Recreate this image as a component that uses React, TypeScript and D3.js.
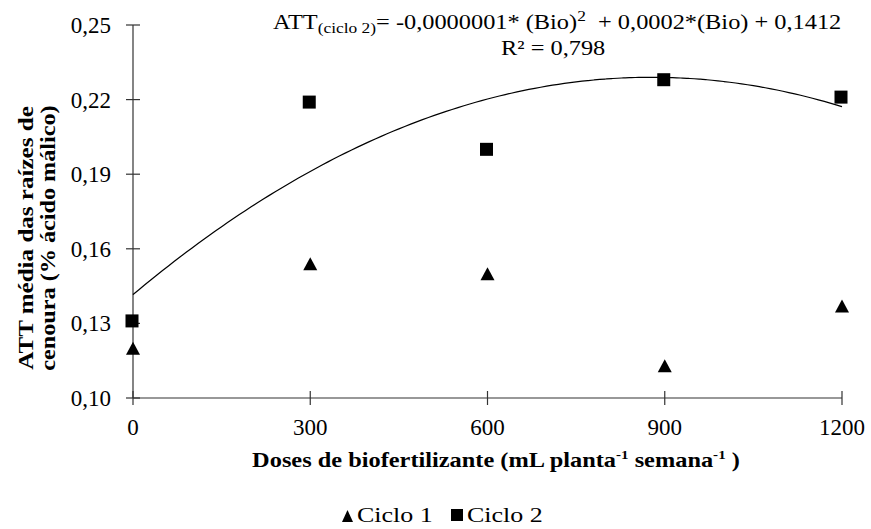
import React from "react";
import * as d3 from "d3";

const doses = [0, 300, 600, 900, 1200];
const ciclo1 = [0.12, 0.154, 0.15, 0.113, 0.137];
const ciclo2 = [0.131, 0.219, 0.2, 0.228, 0.221];
const yTicks = [0.1, 0.13, 0.16, 0.19, 0.22, 0.25];
const xTicks = [0, 300, 600, 900, 1200];
const legendLabels = ["Ciclo 1", "Ciclo 2"];

const W = 871;
const H = 529;
const FONT = "Liberation Serif, Times New Roman, DejaVu Serif, serif";
const SX = 1.16; // horizontal stretch of the reference's text

function fitQuadratic(xs: number[], ys: number[]): number[] {
  const S = [0, 0, 0, 0, 0];
  const T = [0, 0, 0];
  xs.forEach((x, i) => {
    for (let k = 0; k < 5; k++) S[k] += Math.pow(x, k);
    for (let k = 0; k < 3; k++) T[k] += ys[i] * Math.pow(x, k);
  });
  const A = [
    [S[0], S[1], S[2], T[0]],
    [S[1], S[2], S[3], T[1]],
    [S[2], S[3], S[4], T[2]],
  ];
  for (let i = 0; i < 3; i++) {
    for (let j = i + 1; j < 3; j++) {
      const f = A[j][i] / A[i][i];
      for (let k = i; k < 4; k++) A[j][k] -= f * A[i][k];
    }
  }
  const c = [0, 0, 0];
  for (let i = 2; i >= 0; i--) {
    let s = A[i][3];
    for (let k = i + 1; k < 3; k++) s -= A[i][k] * c[k];
    c[i] = s / A[i][i];
  }
  return c;
}

const ts = { fontFamily: FONT };

export default function App() {
  const x = d3.scaleLinear().domain([0, 1200]).range([133, 842]);
  const y = d3.scaleLinear().domain([0.1, 0.25]).range([398, 25]);
  const coef = fitQuadratic(doses, ciclo2);
  const curveX = d3.range(0, 1200.001, 10);
  const line = d3
    .line<number>()
    .x((d) => x(d))
    .y((d) => y(coef[0] + coef[1] * d + coef[2] * d * d))
    .curve(d3.curveMonotoneX);

  const triPath = (cx: number, cy: number, w: number, h: number) =>
    `M${cx},${cy - h / 2}L${cx + w / 2},${cy + h / 2}L${cx - w / 2},${cy + h / 2}Z`;

  const axisColor = "#333";
  return (
    <svg
      width={W}
      height={H}
      style={{ position: "absolute", left: 0, top: 0, background: "#fff", fontFamily: FONT }}
    >
      <rect width={W} height={H} fill="#fff" />
      <line x1={x(0)} x2={x(0)} y1={y(0.25)} y2={y(0.1)} stroke={axisColor} strokeWidth={1.2} />
      <line x1={x(0)} x2={x(1200)} y1={y(0.1)} y2={y(0.1)} stroke={axisColor} strokeWidth={1.2} />
      {yTicks.map((t) => (
        <g key={"y" + t}>
          <line x1={x(0) - 7} x2={x(0) + 7} y1={y(t)} y2={y(t)} stroke={axisColor} strokeWidth={1.2} />
          <text x={111} y={y(t) + 8} textAnchor="end" fontSize={23} fill="#000" style={ts}>
            {t.toFixed(2).replace(".", ",")}
          </text>
        </g>
      ))}
      {xTicks.map((t) => (
        <g key={"x" + t}>
          <line x1={x(t)} x2={x(t)} y1={y(0.1) - 7} y2={y(0.1) + 7} stroke={axisColor} strokeWidth={1.2} />
          <text x={x(t)} y={435} textAnchor="middle" fontSize={23} fill="#000" style={ts}>
            {t}
          </text>
        </g>
      ))}
      <path d={line(curveX) || ""} fill="none" stroke="#000" strokeWidth={1.2} />
      {doses.map((d, i) => (
        <path key={"t" + i} d={triPath(x(d), y(ciclo1[i]), 14, 13)} fill="#000" />
      ))}
      {doses.map((d, i) => (
        <rect key={"s" + i} x={x(d) - 1 - 6.5} y={y(ciclo2[i]) - 6.5} width={13} height={13} fill="#000" />
      ))}
      <g transform={`translate(273,29) scale(${SX},1)`}>
        <text x={0} y={0} fontSize={21} fill="#000" style={ts}>
          ATT
          <tspan fontSize={15} dy={4}>(ciclo 2)</tspan>
          <tspan dy={-4}>= -0,0000001* (Bio)</tspan>
          <tspan fontSize={15} dy={-8}>2</tspan>
          <tspan dy={8}>{"\u00a0 + 0,0002*(Bio) + 0,1412"}</tspan>
        </text>
      </g>
      <g transform={`translate(501,55) scale(${SX},1)`}>
        <text x={0} y={0} fontSize={21} fill="#000" style={ts}>
          R² = 0,798
        </text>
      </g>
      <g transform={`translate(33,238) rotate(-90) scale(1.14,1)`}>
        <text x={0} y={0} textAnchor="middle" fontSize={22} fontWeight="bold" fill="#000" style={ts}>
          ATT média das raízes de
        </text>
      </g>
      <g transform={`translate(55,238) rotate(-90) scale(1.1,1)`}>
        <text x={0} y={0} textAnchor="middle" fontSize={22} fontWeight="bold" fill="#000" style={ts}>
          cenoura (% ácido málico)
        </text>
      </g>
      <g transform={`translate(496,467) scale(${SX},1)`}>
        <text x={0} y={0} textAnchor="middle" fontSize={21} fontWeight="bold" fill="#000" style={ts}>
          Doses de biofertilizante (mL planta
          <tspan fontSize={13} dy={-8}>-1</tspan>
          <tspan dy={8}> semana</tspan>
          <tspan fontSize={13} dy={-8}>-1</tspan>
          <tspan dy={8}>{"\u00a0)"}</tspan>
        </text>
      </g>
      <path d={triPath(347.5, 516, 11, 12)} fill="#000" />
      <g transform={`translate(357,522) scale(1.18,1)`}>
        <text x={0} y={0} fontSize={22} fill="#000" style={ts}>{legendLabels[0]}</text>
      </g>
      <rect x={451} y={509} width={12} height={12} fill="#000" />
      <g transform={`translate(467,522) scale(1.18,1)`}>
        <text x={0} y={0} fontSize={22} fill="#000" style={ts}>{legendLabels[1]}</text>
      </g>
    </svg>
  );
}
